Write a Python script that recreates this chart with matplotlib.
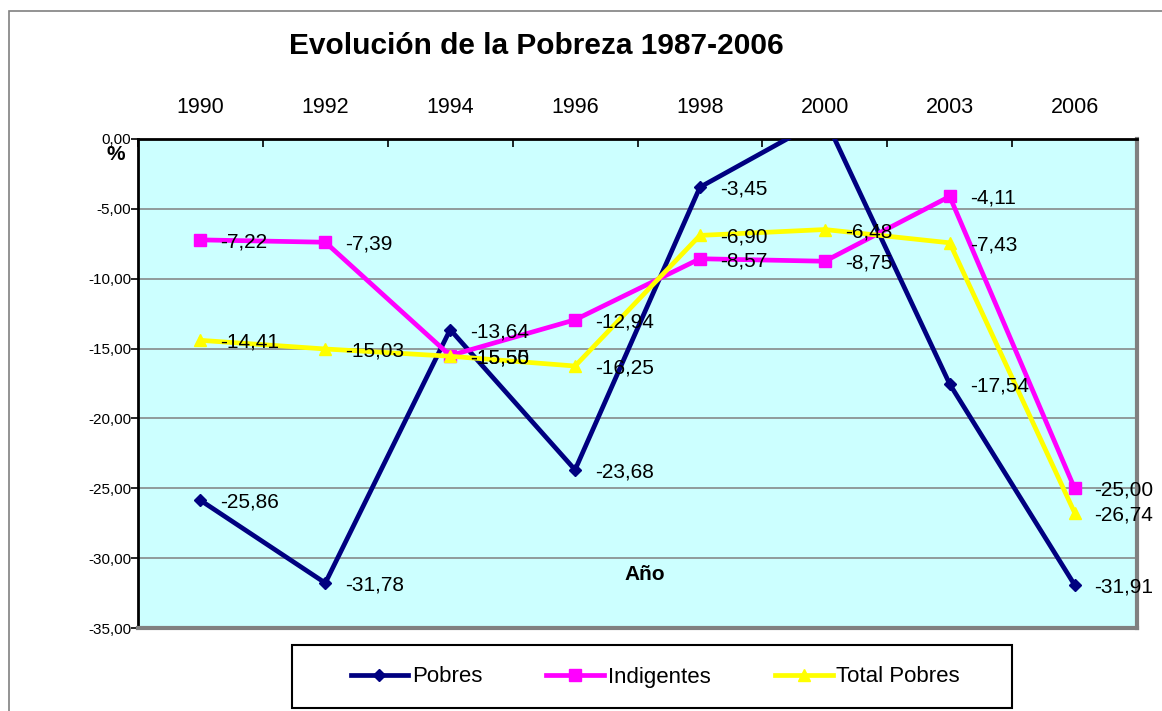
import matplotlib
matplotlib.use("Agg")
import matplotlib.pyplot as plt
from matplotlib.patches import Rectangle
from matplotlib.lines import Line2D

plt.rcParams['font.family'] = ['Liberation Sans', 'DejaVu Sans']

# ---- data ----
years = ["1990", "1992", "1994", "1996", "1998", "2000", "2003", "2006"]
pobres = [-25.86, -31.78, -13.64, -23.68, -3.45, 1.50, -17.54, -31.91]
indigentes = [-7.22, -7.39, -15.50, -12.94, -8.57, -8.75, -4.11, -25.00]
total_pobres = [-14.41, -15.03, -15.55, -16.25, -6.90, -6.48, -7.43, -26.74]
yticks = [0, -5, -10, -15, -20, -25, -30, -35]

W, H = 1162, 711
fig = plt.figure(figsize=(W / 100, H / 100), dpi=100)
fig.patch.set_facecolor("white")

def fx(px):
    return px / W

def fy(py):
    return 1 - py / H

# outer chart border (partially cropped in the original)
fig.patches.append(Rectangle((fx(9), fy(720)), fx(1170) - fx(9), fy(11) - fy(720),
                             transform=fig.transFigure, fill=False,
                             edgecolor="#808080", linewidth=1.2))

ax = fig.add_axes([fx(138), fy(628), fx(1137) - fx(138), fy(139) - fy(628)])
ax.set_facecolor("#CCFFFF")

x = list(range(len(years)))
series = [
    (pobres, "#000080", "D", 6, "Pobres"),
    (indigentes, "#FF00FF", "s", 9, "Indigentes"),
    (total_pobres, "#FFFF00", "^", 9, "Total Pobres"),
]

for vals, col, mk, ms, name in series:
    ax.plot(x, vals, color=col, linewidth=3.4, marker=mk, markersize=ms,
            markerfacecolor=col, markeredgecolor=col, label=name, zorder=3)

for vals, col, mk, ms, name in series:
    for xi, v in zip(x, vals):
        ax.annotate(f"{v:.2f}".replace(".", ","), xy=(xi, v),
                    xytext=(20, -2), textcoords="offset pixels",
                    ha="left", va="center", fontsize=15, color="black",
                    annotation_clip=True, zorder=4)

ax.set_xlim(-0.5, len(years) - 0.5)
ax.set_ylim(-35, 0)

ax.set_yticks(yticks)
ax.set_yticklabels([f"{t:.2f}".replace(".", ",") for t in yticks], fontsize=11)
ax.yaxis.grid(True, color="#808080", linewidth=1.1)
ax.set_axisbelow(True)
ax.tick_params(axis="y", direction="out", length=5, width=1.2, pad=0, color="black")

ax.xaxis.tick_top()
ax.set_xticks(x)
ax.set_xticklabels(years, fontsize=15.5)
ax.tick_params(axis="x", which="major", length=0, pad=15)
ax.set_xticks([i - 0.5 for i in range(len(years) + 1)], minor=True)
ax.tick_params(axis="x", which="minor", direction="in", length=6, width=1.2,
               top=True, bottom=False, color="black")

ax.spines["left"].set_color("black")
ax.spines["left"].set_linewidth(2)
ax.spines["top"].set_color("black")
ax.spines["top"].set_linewidth(2)
ax.spines["right"].set_color("#808080")
ax.spines["right"].set_linewidth(3)
ax.spines["bottom"].set_color("#808080")
ax.spines["bottom"].set_linewidth(3)

# texts
fig.text(fx(536), fy(46), "Evolución de la Pobreza 1987-2006", ha="center",
         va="center", fontsize=21.5, fontweight="bold")
fig.text(fx(116), fy(155), "%", ha="center", va="center", fontsize=15,
         fontweight="bold")
fig.text(fx(645), fy(574), "Año", ha="center", va="center", fontsize=15,
         fontweight="bold")

# legend box
fig.patches.append(Rectangle((fx(292), fy(708)), fx(1012) - fx(292), fy(645) - fy(708),
                             transform=fig.transFigure, fill=True, facecolor="white",
                             edgecolor="black", linewidth=1.5))
handles = [Line2D([0], [0], color=col, linewidth=3.4, marker=mk, markersize=ms,
                  markerfacecolor=col, markeredgecolor=col)
           for vals, col, mk, ms, name in series]
leg = fig.legend(handles, [s[4] for s in series], loc="center",
                 bbox_to_anchor=(fx(655), fy(677)), ncol=3, frameon=False,
                 fontsize=16, handlelength=2.6, handletextpad=0.15,
                 columnspacing=2.9)

fig.savefig("out.png", dpi=100, facecolor="white")
